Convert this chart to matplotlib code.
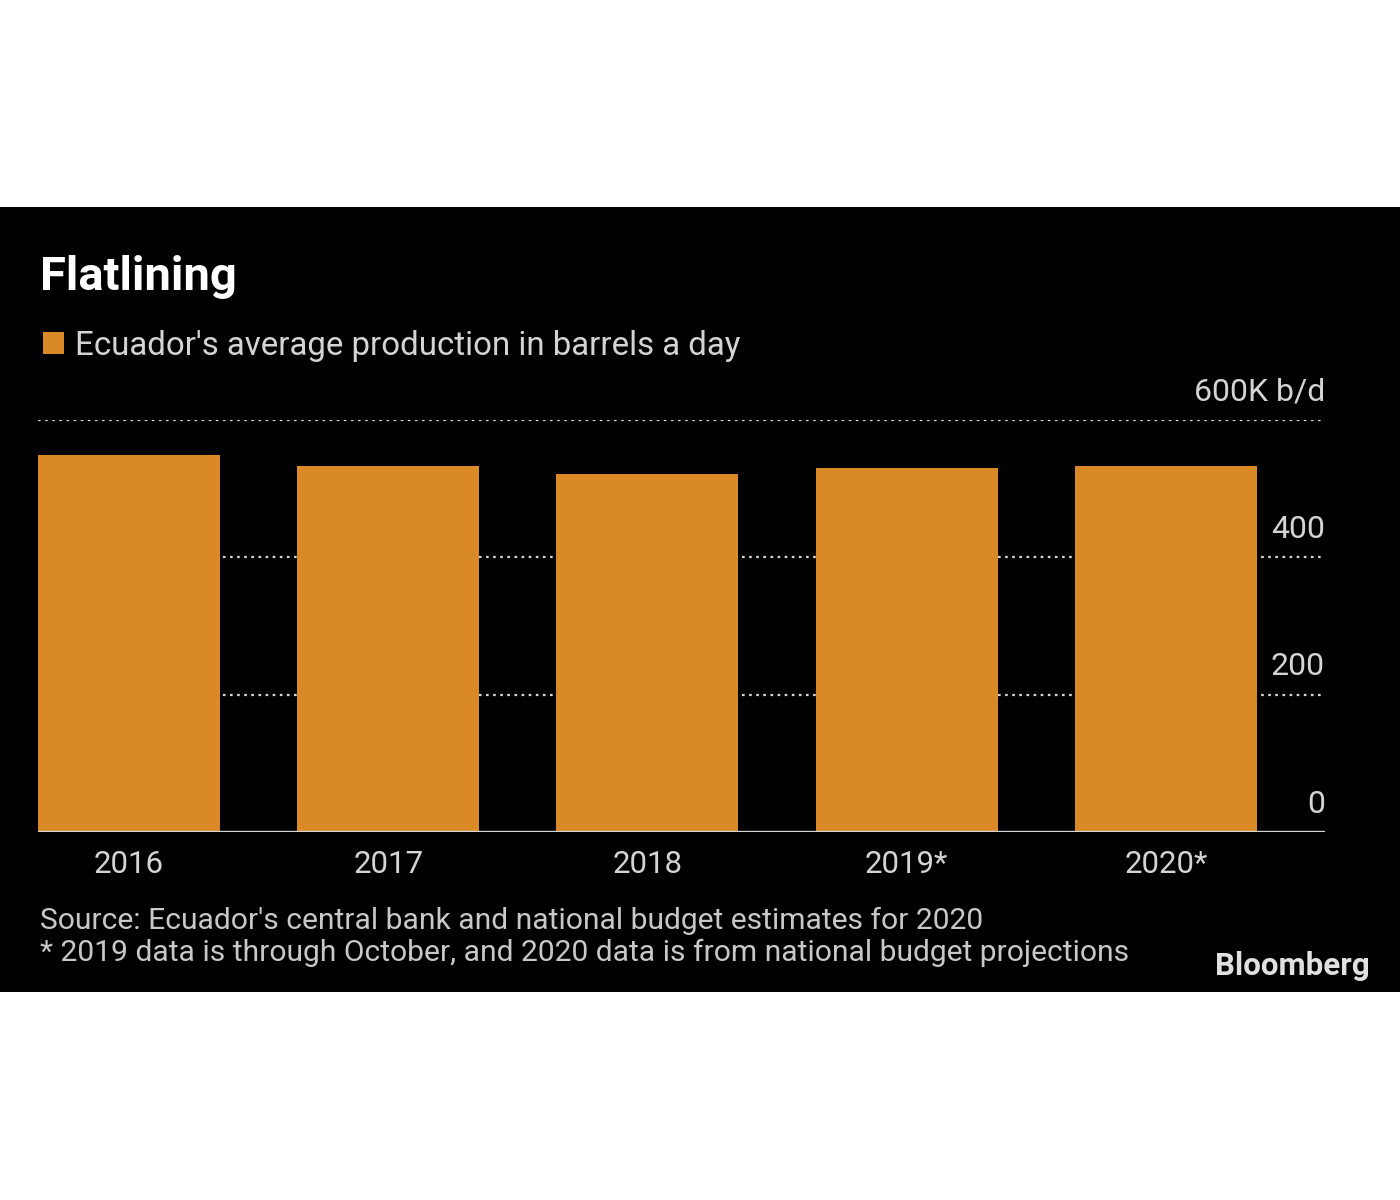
import matplotlib
matplotlib.use('Agg')
import matplotlib.pyplot as plt
from matplotlib.patches import Rectangle
from matplotlib.transforms import blended_transform_factory, offset_copy

years = ['2016', '2017', '2018', '2019*', '2020*']
production = [549, 533, 521, 530, 533]
yticks = [0, 200, 400, 600]
ytick_labels = ['0', '200', '400', '600K b/d']

title = 'Flatlining'
legend_label = "Ecuador's average production in barrels a day"
source = "Source: Ecuador's central bank and national budget estimates for 2020"
note = '* 2019 data is through October, and 2020 data is from national budget projections'

orange = '#d98a26'
grey = '#d4d4d4'
plt.rcParams['font.family'] = ['Roboto', 'DejaVu Sans']

fig = plt.figure(figsize=(14, 12), dpi=100)
fig.patch.set_facecolor('white')
# black card behind the chart
fig.add_artist(Rectangle((0, 0.1733), 1, 0.654, transform=fig.transFigure,
                         facecolor='black', edgecolor='none', zorder=0))

ax = fig.add_axes([0.0271, 0.3067, 0.9193, 0.3433])
ax.set_facecolor('black')
ax.set_zorder(1)

x = range(len(years))
ax.bar(x, production, width=0.702, color=orange, zorder=2)
ax.set_xlim(-0.351, 4.613)
ax.set_ylim(0, 600)

for t in yticks[1:]:
    ax.axhline(t, color=grey, lw=1.6, linestyle=(0, (1.2, 2.0)), zorder=1)
ax.axhline(0, color=grey, lw=2.4, zorder=3)

ax.set_xticks(list(x))
ax.set_xticklabels(years, fontsize=22.5, color=grey)
ax.tick_params(axis='x', length=0, pad=13)
ax.set_yticks([])
for s in ax.spines.values():
    s.set_visible(False)

tr = offset_copy(blended_transform_factory(ax.transAxes, ax.transData),
                 fig=fig, x=0, y=9.5, units='points')
for t, lab in zip(yticks, ytick_labels):
    ax.text(1.0, t, lab, transform=tr, ha='right', va='bottom',
            fontsize=23, color=grey)

fig.text(0.0286, 1 - 290 / 1200, title, fontsize=34, fontweight='bold',
         color='white', va='baseline')
fig.add_artist(Rectangle((43 / 1400, 1 - 354 / 1200), 21 / 1400, 22 / 1200,
                         transform=fig.transFigure, facecolor=orange,
                         edgecolor='none', zorder=2))
fig.text(75 / 1400, 1 - 355 / 1200, legend_label, fontsize=23.8, color=grey,
         va='baseline')
fig.text(40 / 1400, 1 - 929 / 1200, source, fontsize=21.6, color='#c8c8c8',
         va='baseline')
fig.text(40 / 1400, 1 - 961 / 1200, note, fontsize=21.6, color='#c8c8c8',
         va='baseline')
fig.text(1370 / 1400, 1 - 975 / 1200, 'Bloomberg', fontsize=22.5,
         fontweight='bold', color='#e0e0e0', ha='right', va='baseline')

fig.savefig('out.png', dpi=100, facecolor=fig.get_facecolor())
